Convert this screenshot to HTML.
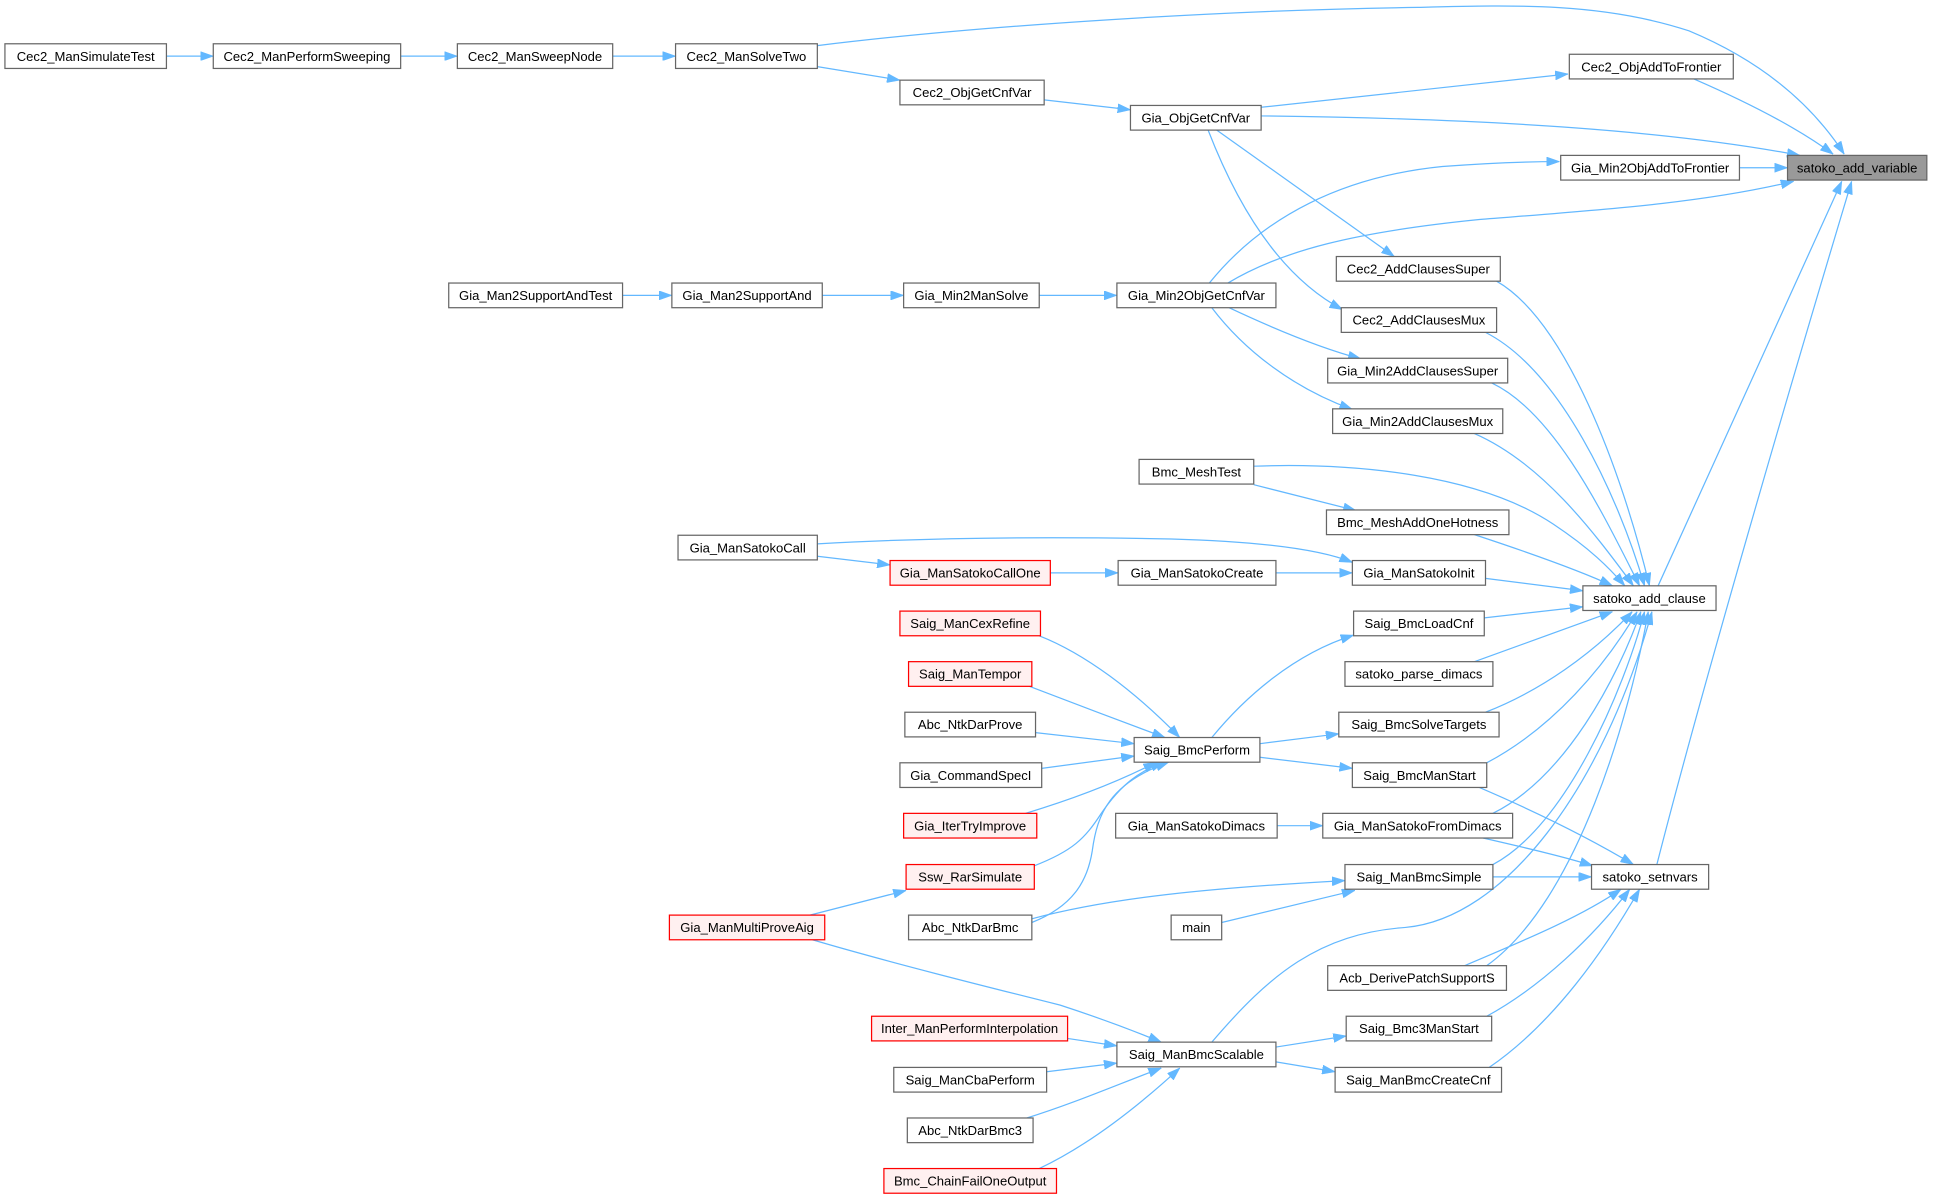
<!DOCTYPE html>
<html>
<head>
<meta charset="utf-8">
<style>
  html, body { margin:0; padding:0; background:#ffffff; }
  svg { display:block; }
  text { font-family: "Liberation Sans", Arial, sans-serif; font-size:10.6px; fill:#000; }
  .e { fill:none; stroke:#63b8ff; stroke-width:1; }
  .n { fill:#ffffff; stroke:#666666; stroke-width:1; }
  .r { fill:#fff0f0; stroke:#ff0000; stroke-width:1; }
  .g { fill:#999999; stroke:#666666; stroke-width:1; }
</style>
</head>
<body>
<svg width="1933" height="1200" viewBox="0 0 1568 973" preserveAspectRatio="none" xmlns="http://www.w3.org/2000/svg">
<defs>
  <marker id="a" viewBox="0 0 10 7" refX="10" refY="3.5" markerWidth="10.5" markerHeight="7.5" markerUnits="userSpaceOnUse" orient="auto">
    <path d="M0,0 L10,3.5 L0,7 z" fill="#63b8ff" stroke="#63b8ff" stroke-width="0.5"/>
  </marker>
</defs>

<!-- EDGES -->
<g class="edges" marker-end="url(#a)">
  <path class="e" marker-end="url(#a)" d="M135,45.5 L173,45.5"/>
  <path class="e" marker-end="url(#a)" d="M325,45.5 L371,45.5"/>
  <path class="e" marker-end="url(#a)" d="M497,45.5 L548,45.5"/>
  <path class="e" marker-end="url(#a)" d="M663,37 C800,20 1000,8 1150,6 C1230,4 1300,2 1370,25 C1430,50 1470,85 1496,125"/>
  <path class="e" marker-end="url(#a)" d="M1374,64 C1420,84 1460,105 1487,125"/>
  <path class="e" marker-end="url(#a)" d="M1023,94 C1200,96 1350,105 1460,126"/>
  <path class="e" marker-end="url(#a)" d="M1023,87 L1272,60"/>
  <path class="e" marker-end="url(#a)" d="M1411,136 L1450,136"/>
  <path class="e" marker-end="url(#a)" d="M981,229.5 C1025,175 1090,143 1170,135 C1210,132 1240,131 1265,131"/>
  <path class="e" marker-end="url(#a)" d="M996,229.5 C1040,203 1100,188 1200,178 C1300,170 1380,165 1455,147"/>
  <path class="e" marker-end="url(#a)" d="M663,54 L730,65"/>
  <path class="e" marker-end="url(#a)" d="M847,81 L917,89"/>
  <path class="e" marker-end="url(#a)" d="M987,105.5 L1131,208"/>
  <path class="e" marker-end="url(#a)" d="M980,105.5 C1005,170 1040,225 1089,251"/>
  <path class="e" marker-end="url(#a)" d="M997,249.5 C1030,265 1070,282 1104,291"/>
  <path class="e" marker-end="url(#a)" d="M983,249.5 C1010,285 1050,315 1097,332"/>
  <path class="e" marker-end="url(#a)" d="M505,239.5 L545,239.5"/>
  <path class="e" marker-end="url(#a)" d="M667,239.5 L733,239.5"/>
  <path class="e" marker-end="url(#a)" d="M843,239.5 L906,239.5"/>
  <path class="e" marker-end="url(#a)" d="M1017,393 L1100,414"/>
  <path class="e" marker-end="url(#a)" d="M1017,378 C1100,375 1200,385 1260,425 C1290,445 1305,460 1318,475"/>

  <!-- into satoko_add_clause -->
  <path class="e" marker-end="url(#a)" d="M1214,228 C1270,260 1315,380 1338,475"/>
  <path class="e" marker-end="url(#a)" d="M1205,269.5 C1265,300 1312,400 1334,475"/>
  <path class="e" marker-end="url(#a)" d="M1210,310.5 C1262,335 1302,420 1330,475"/>
  <path class="e" marker-end="url(#a)" d="M1196,351.5 C1250,375 1292,430 1325,475"/>
  <path class="e" marker-end="url(#a)" d="M1196,433.5 C1240,448 1280,462 1308,475"/>
  <path class="e" marker-end="url(#a)" d="M1205,469 L1284,479"/>
  <path class="e" marker-end="url(#a)" d="M1204,501 L1284,492"/>
  <path class="e" marker-end="url(#a)" d="M1196,536.5 L1308,496"/>
  <path class="e" marker-end="url(#a)" d="M1205,577.5 C1250,560 1292,530 1324,496"/>
  <path class="e" marker-end="url(#a)" d="M1206,618.5 C1260,590 1302,540 1328,496"/>
  <path class="e" marker-end="url(#a)" d="M1211,659.5 C1270,630 1312,550 1331,496"/>
  <path class="e" marker-end="url(#a)" d="M1211,701 C1270,670 1317,560 1334,496"/>
  <path class="e" marker-end="url(#a)" d="M1206,783 C1280,730 1322,580 1337,496"/>
  <path class="e" marker-end="url(#a)" d="M983,845 C1030,790 1070,757 1140,752 C1220,745 1300,640 1340,496"/>

  <!-- to satoko_add_variable from below -->
  <path class="e" marker-end="url(#a)" d="M1345,475 L1494,147"/>
  <path class="e" marker-end="url(#a)" d="M1344,701 C1380,560 1450,320 1502,147"/>

  <!-- into satoko_setnvars -->
  <path class="e" marker-end="url(#a)" d="M1200,638.5 C1250,660 1290,680 1325,701"/>
  <path class="e" marker-end="url(#a)" d="M1203,679.5 C1240,688 1270,695 1292,702"/>
  <path class="e" marker-end="url(#a)" d="M1211,711 L1291,711"/>
  <path class="e" marker-end="url(#a)" d="M1188,783 C1230,765 1280,745 1315,721"/>
  <path class="e" marker-end="url(#a)" d="M1206,824 C1250,800 1292,760 1322,721"/>
  <path class="e" marker-end="url(#a)" d="M1208,865.5 C1260,830 1302,770 1330,721"/>

  <!-- satoko call chain -->
  <path class="e" marker-end="url(#a)" d="M663,441 C750,436 850,435 950,437 C1020,439 1070,445 1097,456"/>
  <path class="e" marker-end="url(#a)" d="M663,451 L722,458"/>
  <path class="e" marker-end="url(#a)" d="M852,464.5 L907,464.5"/>
  <path class="e" marker-end="url(#a)" d="M1035,464.5 L1097,464.5"/>

  <!-- Saig_BmcPerform out -->
  <path class="e" marker-end="url(#a)" d="M983,598 C1010,565 1050,530 1098,515"/>
  <path class="e" marker-end="url(#a)" d="M1022,603 L1086,595"/>
  <path class="e" marker-end="url(#a)" d="M1022,614 L1097,623"/>

  <!-- into Saig_BmcPerform -->
  <path class="e" marker-end="url(#a)" d="M843,515.5 C880,530 920,560 957,598"/>
  <path class="e" marker-end="url(#a)" d="M835,556.5 C870,570 910,585 945,598"/>
  <path class="e" marker-end="url(#a)" d="M840,594 L920,603"/>
  <path class="e" marker-end="url(#a)" d="M845,623 L920,613"/>
  <path class="e" marker-end="url(#a)" d="M832,659.5 C870,648 905,635 938,618"/>
  <path class="e" marker-end="url(#a)" d="M839,702 C870,690 880,680 893,660 C910,635 925,625 944,618"/>
  <path class="e" marker-end="url(#a)" d="M837,748 C870,735 882,715 886,690 C890,660 900,635 948,618"/>

  <!-- misc -->
  <path class="e" marker-end="url(#a)" d="M657,742 L735,722"/>
  <path class="e" marker-end="url(#a)" d="M659,762 C720,780 800,800 860,815 C900,828 925,838 942,845"/>
  <path class="e" marker-end="url(#a)" d="M837,745 C900,728 980,720 1091,714"/>
  <path class="e" marker-end="url(#a)" d="M991,748 L1099,722"/>
  <path class="e" marker-end="url(#a)" d="M1036,669.5 L1073,669.5"/>

  <!-- into Saig_ManBmcScalable -->
  <path class="e" marker-end="url(#a)" d="M866,842 L906,848"/>
  <path class="e" marker-end="url(#a)" d="M849,869 L906,862"/>
  <path class="e" marker-end="url(#a)" d="M833,906.5 C870,895 905,880 942,866"/>
  <path class="e" marker-end="url(#a)" d="M843,947.5 C880,930 920,900 957,866"/>
  <path class="e" marker-end="url(#a)" d="M1035,849 L1092,840"/>
  <path class="e" marker-end="url(#a)" d="M1035,861 L1083,869"/>
</g>

<!-- NODES -->
<g>
  <rect class="n" x="4" y="35.5" width="131" height="20"/><text x="69.5" y="49.3" text-anchor="middle">Cec2_ManSimulateTest</text>
  <rect class="n" x="173" y="35.5" width="152" height="20"/><text x="249" y="49.3" text-anchor="middle">Cec2_ManPerformSweeping</text>
  <rect class="n" x="371" y="35.5" width="126" height="20"/><text x="434" y="49.3" text-anchor="middle">Cec2_ManSweepNode</text>
  <rect class="n" x="548" y="35.5" width="115" height="20"/><text x="605.5" y="49.3" text-anchor="middle">Cec2_ManSolveTwo</text>
  <rect class="n" x="730" y="65" width="117" height="20"/><text x="788.5" y="78.8" text-anchor="middle">Cec2_ObjGetCnfVar</text>
  <rect class="n" x="917" y="85.5" width="106" height="20"/><text x="970" y="99.3" text-anchor="middle">Gia_ObjGetCnfVar</text>
  <rect class="n" x="1273" y="44" width="133" height="20"/><text x="1339.5" y="57.8" text-anchor="middle">Cec2_ObjAddToFrontier</text>
  <rect class="n" x="1266" y="126" width="145" height="20"/><text x="1338.5" y="139.8" text-anchor="middle">Gia_Min2ObjAddToFrontier</text>
  <rect class="g" x="1450" y="126" width="113" height="20"/><text x="1506.5" y="139.8" text-anchor="middle">satoko_add_variable</text>

  <rect class="n" x="364" y="229.5" width="141" height="20"/><text x="434.5" y="243.3" text-anchor="middle">Gia_Man2SupportAndTest</text>
  <rect class="n" x="545" y="229.5" width="122" height="20"/><text x="606" y="243.3" text-anchor="middle">Gia_Man2SupportAnd</text>
  <rect class="n" x="733" y="229.5" width="110" height="20"/><text x="788" y="243.3" text-anchor="middle">Gia_Min2ManSolve</text>
  <rect class="n" x="906" y="229.5" width="129" height="20"/><text x="970.5" y="243.3" text-anchor="middle">Gia_Min2ObjGetCnfVar</text>

  <rect class="n" x="1084" y="208" width="133" height="20"/><text x="1150.5" y="221.8" text-anchor="middle">Cec2_AddClausesSuper</text>
  <rect class="n" x="1088" y="249.5" width="126" height="20"/><text x="1151" y="263.3" text-anchor="middle">Cec2_AddClausesMux</text>
  <rect class="n" x="1077" y="290.5" width="146" height="20"/><text x="1150" y="304.3" text-anchor="middle">Gia_Min2AddClausesSuper</text>
  <rect class="n" x="1081" y="331.5" width="138" height="20"/><text x="1150" y="345.3" text-anchor="middle">Gia_Min2AddClausesMux</text>
  <rect class="n" x="924" y="372.5" width="93" height="20"/><text x="970.5" y="386.3" text-anchor="middle">Bmc_MeshTest</text>
  <rect class="n" x="1076" y="413.5" width="148" height="20"/><text x="1150" y="427.3" text-anchor="middle">Bmc_MeshAddOneHotness</text>

  <rect class="n" x="550" y="434" width="113" height="20"/><text x="606.5" y="447.8" text-anchor="middle">Gia_ManSatokoCall</text>
  <rect class="r" x="722" y="454.5" width="130" height="20"/><text x="787" y="468.3" text-anchor="middle">Gia_ManSatokoCallOne</text>
  <rect class="n" x="907" y="454.5" width="128" height="20"/><text x="971" y="468.3" text-anchor="middle">Gia_ManSatokoCreate</text>
  <rect class="n" x="1097" y="454.5" width="108" height="20"/><text x="1151" y="468.3" text-anchor="middle">Gia_ManSatokoInit</text>
  <rect class="n" x="1284" y="475" width="108" height="20"/><text x="1338" y="488.8" text-anchor="middle">satoko_add_clause</text>

  <rect class="r" x="730" y="495.5" width="114" height="20"/><text x="787" y="509.3" text-anchor="middle">Saig_ManCexRefine</text>
  <rect class="n" x="1098" y="495.5" width="106" height="20"/><text x="1151" y="509.3" text-anchor="middle">Saig_BmcLoadCnf</text>
  <rect class="r" x="737" y="536.5" width="100" height="20"/><text x="787" y="550.3" text-anchor="middle">Saig_ManTempor</text>
  <rect class="n" x="1091" y="536.5" width="120" height="20"/><text x="1151" y="550.3" text-anchor="middle">satoko_parse_dimacs</text>
  <rect class="n" x="734" y="577.5" width="106" height="20"/><text x="787" y="591.3" text-anchor="middle">Abc_NtkDarProve</text>
  <rect class="n" x="1086" y="577.5" width="130" height="20"/><text x="1151" y="591.3" text-anchor="middle">Saig_BmcSolveTargets</text>
  <rect class="n" x="920" y="598" width="102" height="20"/><text x="971" y="611.8" text-anchor="middle">Saig_BmcPerform</text>
  <rect class="n" x="730" y="618.5" width="115" height="20"/><text x="787.5" y="632.3" text-anchor="middle">Gia_CommandSpecI</text>
  <rect class="n" x="1097" y="618.5" width="109" height="20"/><text x="1151.5" y="632.3" text-anchor="middle">Saig_BmcManStart</text>
  <rect class="r" x="733" y="659.5" width="108" height="20"/><text x="787" y="673.3" text-anchor="middle">Gia_IterTryImprove</text>
  <rect class="n" x="905" y="659.5" width="131" height="20"/><text x="970.5" y="673.3" text-anchor="middle">Gia_ManSatokoDimacs</text>
  <rect class="n" x="1073" y="659.5" width="154" height="20"/><text x="1150" y="673.3" text-anchor="middle">Gia_ManSatokoFromDimacs</text>
  <rect class="r" x="735" y="701" width="104" height="20"/><text x="787" y="714.8" text-anchor="middle">Ssw_RarSimulate</text>
  <rect class="n" x="1091" y="701" width="120" height="20"/><text x="1151" y="714.8" text-anchor="middle">Saig_ManBmcSimple</text>
  <rect class="n" x="1291" y="701" width="95" height="20"/><text x="1338.5" y="714.8" text-anchor="middle">satoko_setnvars</text>
  <rect class="r" x="543" y="742" width="126" height="20"/><text x="606" y="755.8" text-anchor="middle">Gia_ManMultiProveAig</text>
  <rect class="n" x="737" y="742" width="100" height="20"/><text x="787" y="755.8" text-anchor="middle">Abc_NtkDarBmc</text>
  <rect class="n" x="950" y="742" width="41" height="20"/><text x="970.5" y="755.8" text-anchor="middle">main</text>
  <rect class="n" x="1077" y="783" width="145" height="20"/><text x="1149.5" y="796.8" text-anchor="middle">Acb_DerivePatchSupportS</text>
  <rect class="r" x="707" y="824" width="159" height="20"/><text x="786.5" y="837.8" text-anchor="middle">Inter_ManPerformInterpolation</text>
  <rect class="n" x="1092" y="824" width="118" height="20"/><text x="1151" y="837.8" text-anchor="middle">Saig_Bmc3ManStart</text>
  <rect class="n" x="906" y="845" width="129" height="20"/><text x="970.5" y="858.8" text-anchor="middle">Saig_ManBmcScalable</text>
  <rect class="n" x="725" y="865.5" width="124" height="20"/><text x="787" y="879.3" text-anchor="middle">Saig_ManCbaPerform</text>
  <rect class="n" x="1083" y="865.5" width="135" height="20"/><text x="1150.5" y="879.3" text-anchor="middle">Saig_ManBmcCreateCnf</text>
  <rect class="n" x="736" y="906.5" width="102" height="20"/><text x="787" y="920.3" text-anchor="middle">Abc_NtkDarBmc3</text>
  <rect class="r" x="717" y="947.5" width="140" height="20"/><text x="787" y="961.3" text-anchor="middle">Bmc_ChainFailOneOutput</text>
</g>
</svg>
</body>
</html>
